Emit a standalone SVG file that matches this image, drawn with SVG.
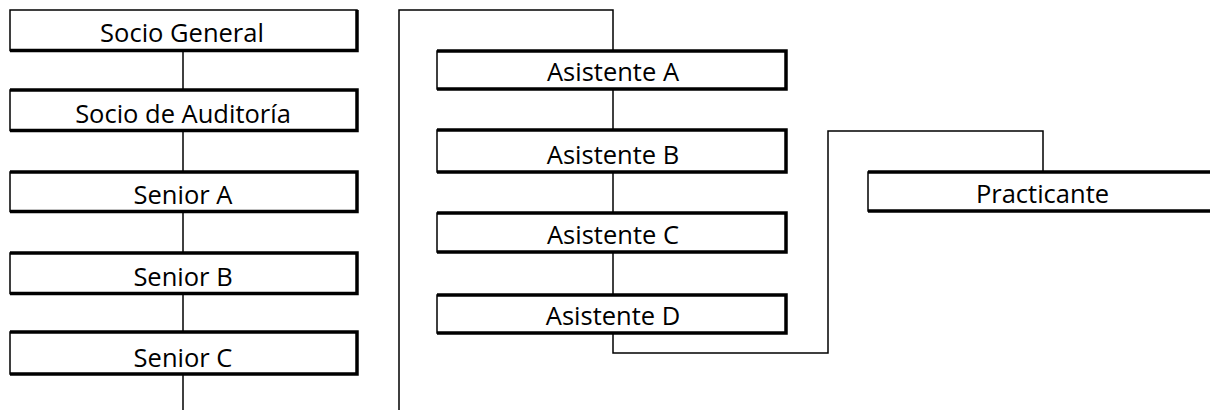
<svg xmlns="http://www.w3.org/2000/svg" width="1210" height="410" viewBox="0 0 1210 410">
<style>
.box{fill:#fff;stroke:#000;stroke-width:1.5}
.edge{fill:none;stroke:#000;stroke-width:3.5;stroke-linejoin:miter}
.lbl{font-family:"Open Sans","Liberation Sans",sans-serif;font-size:25.5px;fill:#000;text-anchor:middle}
.con{fill:none;stroke:#000;stroke-width:1.5}
</style>
<rect width="1210" height="410" fill="#fff"/>
<g id="connectors">
<line class="con" x1="183" y1="50" x2="183" y2="90"/>
<line class="con" x1="183" y1="130" x2="183" y2="172"/>
<line class="con" x1="183" y1="211" x2="183" y2="253"/>
<line class="con" x1="183" y1="293" x2="183" y2="332"/>
<line class="con" x1="183" y1="374" x2="183" y2="410"/>
<polyline class="con" points="399,410 399,10 613,10 613,51"/>
<line class="con" x1="613" y1="89" x2="613" y2="130"/>
<line class="con" x1="613" y1="172" x2="613" y2="213"/>
<line class="con" x1="613" y1="252" x2="613" y2="295"/>
<polyline class="con" points="613,333 613,353 828,353 828,131 1043,131 1043,172"/>
</g>
<g id="socio-general"><rect class="box" x="10" y="10" width="347" height="40.5"/><path class="edge" d="M357,10 V50.5 H10"/><text class="lbl" x="182" y="42">Socio General</text></g>
<g id="socio-auditoria"><rect class="box" x="10" y="90" width="347" height="40.5"/><path class="edge" d="M10,90 H357 V130.5 H10"/><text class="lbl" x="183" y="122.5">Socio de Auditoría</text></g>
<g id="senior-a"><rect class="box" x="10" y="172" width="347" height="39.5"/><path class="edge" d="M10,172 H357 V211.5 H10"/><text class="lbl" x="183" y="203.5">Senior A</text></g>
<g id="senior-b"><rect class="box" x="10" y="253" width="347" height="40.5"/><path class="edge" d="M10,253 H357 V293.5 H10"/><text class="lbl" x="183" y="285.5">Senior B</text></g>
<g id="senior-c"><rect class="box" x="10" y="332" width="347" height="42"/><path class="edge" d="M10,332 H357 V374 H10"/><text class="lbl" x="183" y="366.5">Senior C</text></g>
<g id="asistente-a"><rect class="box" x="437" y="51" width="349" height="38"/><path class="edge" d="M437,51 H786 V89 H437"/><text class="lbl" x="613" y="81">Asistente A</text></g>
<g id="asistente-b"><rect class="box" x="437" y="130" width="349" height="42"/><path class="edge" d="M437,130 H786 V172 H437"/><text class="lbl" x="613" y="164">Asistente B</text></g>
<g id="asistente-c"><rect class="box" x="437" y="213" width="349" height="39"/><path class="edge" d="M437,213 H786 V252 H437"/><text class="lbl" x="613" y="244">Asistente C</text></g>
<g id="asistente-d"><rect class="box" x="437" y="295" width="349" height="38"/><path class="edge" d="M437,295 H786 V333 H437"/><text class="lbl" x="613" y="325">Asistente D</text></g>
<g id="practicante"><rect class="box" x="868" y="172" width="349" height="39"/><path class="edge" d="M868,172 H1217 V211 H868"/><text class="lbl" x="1042.5" y="203.3">Practicante</text></g>
</svg>
